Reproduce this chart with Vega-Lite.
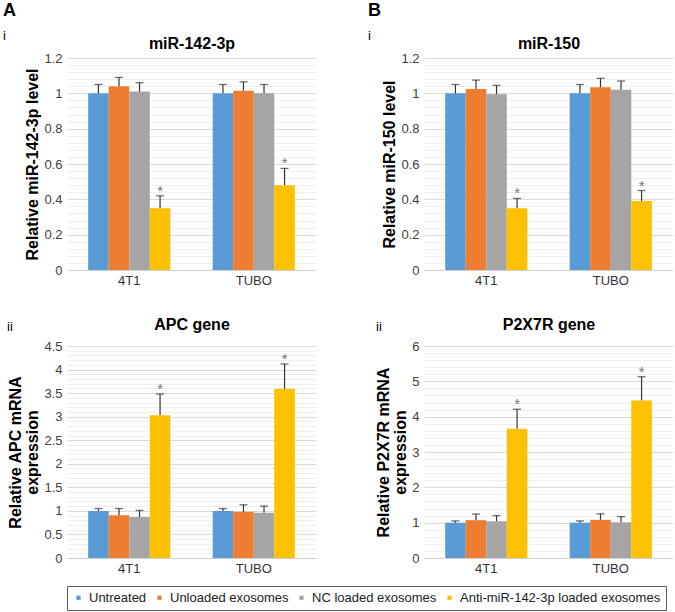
{
  "$schema": "https://vega.github.io/schema/vega-lite/v6.json",
  "padding": {"left": 3, "top": 2, "right": 0, "bottom": 0},
  "autosize": {"type": "pad"},
  "background": "white",
  "data": {"values": [
    {"panel": "Ai", "cell": "4T1", "series": "Untreated", "value": 1.0, "upper": 1.05},
    {"panel": "Ai", "cell": "4T1", "series": "Unloaded exosomes", "value": 1.04, "upper": 1.09},
    {"panel": "Ai", "cell": "4T1", "series": "NC loaded exosomes", "value": 1.01, "upper": 1.06},
    {"panel": "Ai", "cell": "4T1", "series": "Anti-miR-142-3p loaded exosomes", "value": 0.35, "upper": 0.42},
    {"panel": "Ai", "cell": "TUBO", "series": "Untreated", "value": 1.0, "upper": 1.05},
    {"panel": "Ai", "cell": "TUBO", "series": "Unloaded exosomes", "value": 1.015, "upper": 1.065},
    {"panel": "Ai", "cell": "TUBO", "series": "NC loaded exosomes", "value": 1.0, "upper": 1.05},
    {"panel": "Ai", "cell": "TUBO", "series": "Anti-miR-142-3p loaded exosomes", "value": 0.48, "upper": 0.575},
    {"panel": "Bi", "cell": "4T1", "series": "Untreated", "value": 1.0, "upper": 1.05},
    {"panel": "Bi", "cell": "4T1", "series": "Unloaded exosomes", "value": 1.025, "upper": 1.075},
    {"panel": "Bi", "cell": "4T1", "series": "NC loaded exosomes", "value": 0.995, "upper": 1.045},
    {"panel": "Bi", "cell": "4T1", "series": "Anti-miR-142-3p loaded exosomes", "value": 0.35, "upper": 0.405},
    {"panel": "Bi", "cell": "TUBO", "series": "Untreated", "value": 1.0, "upper": 1.05},
    {"panel": "Bi", "cell": "TUBO", "series": "Unloaded exosomes", "value": 1.035, "upper": 1.085},
    {"panel": "Bi", "cell": "TUBO", "series": "NC loaded exosomes", "value": 1.02, "upper": 1.07},
    {"panel": "Bi", "cell": "TUBO", "series": "Anti-miR-142-3p loaded exosomes", "value": 0.39, "upper": 0.45},
    {"panel": "Aii", "cell": "4T1", "series": "Untreated", "value": 1.0, "upper": 1.05},
    {"panel": "Aii", "cell": "4T1", "series": "Unloaded exosomes", "value": 0.91, "upper": 1.05},
    {"panel": "Aii", "cell": "4T1", "series": "NC loaded exosomes", "value": 0.87, "upper": 1.01},
    {"panel": "Aii", "cell": "4T1", "series": "Anti-miR-142-3p loaded exosomes", "value": 3.03, "upper": 3.48},
    {"panel": "Aii", "cell": "TUBO", "series": "Untreated", "value": 1.0, "upper": 1.05},
    {"panel": "Aii", "cell": "TUBO", "series": "Unloaded exosomes", "value": 0.98, "upper": 1.13},
    {"panel": "Aii", "cell": "TUBO", "series": "NC loaded exosomes", "value": 0.96, "upper": 1.1},
    {"panel": "Aii", "cell": "TUBO", "series": "Anti-miR-142-3p loaded exosomes", "value": 3.59, "upper": 4.12},
    {"panel": "Bii", "cell": "4T1", "series": "Untreated", "value": 1.0, "upper": 1.05},
    {"panel": "Bii", "cell": "4T1", "series": "Unloaded exosomes", "value": 1.07, "upper": 1.245},
    {"panel": "Bii", "cell": "4T1", "series": "NC loaded exosomes", "value": 1.04, "upper": 1.2},
    {"panel": "Bii", "cell": "4T1", "series": "Anti-miR-142-3p loaded exosomes", "value": 3.66, "upper": 4.21},
    {"panel": "Bii", "cell": "TUBO", "series": "Untreated", "value": 1.0, "upper": 1.05},
    {"panel": "Bii", "cell": "TUBO", "series": "Unloaded exosomes", "value": 1.08, "upper": 1.25},
    {"panel": "Bii", "cell": "TUBO", "series": "NC loaded exosomes", "value": 1.01, "upper": 1.17},
    {"panel": "Bii", "cell": "TUBO", "series": "Anti-miR-142-3p loaded exosomes", "value": 4.46, "upper": 5.13}
  ]},
  "columns": 2,
  "bounds": "flush",
  "spacing": {"row": 76, "column": 108},
  "resolve": {"scale": {"x": "independent", "y": "independent", "xOffset": "independent", "color": "shared"}, "axis": {"x": "independent", "y": "independent"}},
  "concat": [
    {
      "width": 249, "height": 212,
      "title": {"text": "A", "subtitle": "\u00a0\u00a0\u00a0i", "anchor": "start", "frame": "group", "fontSize": 18, "fontWeight": "bold", "dx": -64, "offset": -8, "subtitleFontSize": 13, "subtitlePadding": 10, "subtitleColor": "#000000"},
      "transform": [{"filter": "datum.panel === 'Ai'"}],
      "encoding": {
        "x": {"field": "cell", "type": "nominal", "sort": ["4T1", "TUBO"], "scale": {"paddingInner": 0.34, "paddingOuter": 0.17},
              "axis": {"title": "miR-142-3p", "titleX": 124.5, "titleY": -222, "titleAlign": "center", "titleBaseline": "alphabetic", "titleFontSize": 16, "titleFontWeight": "bold"}},
        "xOffset": {"field": "series", "type": "nominal", "sort": ["Untreated", "Unloaded exosomes", "NC loaded exosomes", "Anti-miR-142-3p loaded exosomes"], "scale": {"paddingInner": 0, "paddingOuter": 0}}
      },
      "layer": [
        {"mark": {"type": "bar"},
         "encoding": {
           "y": {"field": "value", "type": "quantitative", "scale": {"domain": [0, 1.2], "nice": false},
                 "axis": {"title": "Relative miR-142-3p level", "labelOverlap": false, "tickCount": 200,
                          "values": [0,0.04,0.08,0.12,0.16,0.2,0.24,0.28,0.32,0.36,0.4,0.44,0.48,0.52,0.56,0.6,0.64,0.68,0.72,0.76,0.8,0.84,0.88,0.92,0.96,1,1.04,1.08,1.12,1.16,1.2],
                          "labelExpr": "abs(datum.value/0.2 - round(datum.value/0.2)) < 0.001 ? format(datum.value, '~g') : ''",
                          "gridColor": {"condition": {"test": "abs(datum.value/0.2 - round(datum.value/0.2)) < 0.001", "value": "#d9d9d9"}, "value": "#efefef"}}},
           "color": {"field": "series", "type": "nominal",
                     "scale": {"domain": ["Untreated", "Unloaded exosomes", "NC loaded exosomes", "Anti-miR-142-3p loaded exosomes"], "range": ["#5B9BD5", "#ED7D31", "#A5A5A5", "#FFC000"]},
                     "legend": {"orient": "none", "legendX": 0, "legendY": 528, "direction": "horizontal", "title": null}}
         }},
        {"mark": {"type": "rule", "color": "#333333", "strokeWidth": 1.2},
         "encoding": {"y": {"field": "value", "type": "quantitative"}, "y2": {"field": "upper"}}},
        {"mark": {"type": "tick", "color": "#333333", "size": 8, "thickness": 1.3},
         "encoding": {"y": {"field": "upper", "type": "quantitative"}}},
        {"transform": [{"filter": "datum.series === 'Anti-miR-142-3p loaded exosomes'"}],
         "mark": {"type": "text", "text": "*", "fontSize": 15, "color": "#777777", "baseline": "alphabetic", "dy": 0},
         "encoding": {"y": {"field": "upper", "type": "quantitative"}}}
      ]
    },
    {
      "width": 249, "height": 212,
      "title": {"text": "B", "subtitle": "\u00a0i", "anchor": "start", "frame": "group", "fontSize": 18, "fontWeight": "bold", "dx": -56, "offset": -8, "subtitleFontSize": 13, "subtitlePadding": 10, "subtitleColor": "#000000"},
      "transform": [{"filter": "datum.panel === 'Bi'"}],
      "encoding": {
        "x": {"field": "cell", "type": "nominal", "sort": ["4T1", "TUBO"], "scale": {"paddingInner": 0.34, "paddingOuter": 0.17},
              "axis": {"title": "miR-150", "titleX": 124.5, "titleY": -222, "titleAlign": "center", "titleBaseline": "alphabetic", "titleFontSize": 16, "titleFontWeight": "bold"}},
        "xOffset": {"field": "series", "type": "nominal", "sort": ["Untreated", "Unloaded exosomes", "NC loaded exosomes", "Anti-miR-142-3p loaded exosomes"], "scale": {"paddingInner": 0, "paddingOuter": 0}}
      },
      "layer": [
        {"mark": {"type": "bar"},
         "encoding": {
           "y": {"field": "value", "type": "quantitative", "scale": {"domain": [0, 1.2], "nice": false},
                 "axis": {"title": "Relative miR-150 level", "labelOverlap": false, "tickCount": 200,
                          "values": [0,0.04,0.08,0.12,0.16,0.2,0.24,0.28,0.32,0.36,0.4,0.44,0.48,0.52,0.56,0.6,0.64,0.68,0.72,0.76,0.8,0.84,0.88,0.92,0.96,1,1.04,1.08,1.12,1.16,1.2],
                          "labelExpr": "abs(datum.value/0.2 - round(datum.value/0.2)) < 0.001 ? format(datum.value, '~g') : ''",
                          "gridColor": {"condition": {"test": "abs(datum.value/0.2 - round(datum.value/0.2)) < 0.001", "value": "#d9d9d9"}, "value": "#efefef"}}},
           "color": {"field": "series", "type": "nominal",
                     "scale": {"domain": ["Untreated", "Unloaded exosomes", "NC loaded exosomes", "Anti-miR-142-3p loaded exosomes"], "range": ["#5B9BD5", "#ED7D31", "#A5A5A5", "#FFC000"]},
                     "legend": {"orient": "none", "legendX": 0, "legendY": 528, "direction": "horizontal", "title": null}}
         }},
        {"mark": {"type": "rule", "color": "#333333", "strokeWidth": 1.2},
         "encoding": {"y": {"field": "value", "type": "quantitative"}, "y2": {"field": "upper"}}},
        {"mark": {"type": "tick", "color": "#333333", "size": 8, "thickness": 1.3},
         "encoding": {"y": {"field": "upper", "type": "quantitative"}}},
        {"transform": [{"filter": "datum.series === 'Anti-miR-142-3p loaded exosomes'"}],
         "mark": {"type": "text", "text": "*", "fontSize": 15, "color": "#777777", "baseline": "alphabetic", "dy": 0},
         "encoding": {"y": {"field": "upper", "type": "quantitative"}}}
      ]
    },
    {
      "width": 249, "height": 212,
      "title": {"text": "ii", "anchor": "start", "frame": "group", "fontSize": 13, "fontWeight": "normal", "dx": -60, "offset": -18},
      "transform": [{"filter": "datum.panel === 'Aii'"}],
      "encoding": {
        "x": {"field": "cell", "type": "nominal", "sort": ["4T1", "TUBO"], "scale": {"paddingInner": 0.34, "paddingOuter": 0.17},
              "axis": {"title": "APC gene", "titleX": 124.5, "titleY": -229, "titleAlign": "center", "titleBaseline": "alphabetic", "titleFontSize": 16, "titleFontWeight": "bold"}},
        "xOffset": {"field": "series", "type": "nominal", "sort": ["Untreated", "Unloaded exosomes", "NC loaded exosomes", "Anti-miR-142-3p loaded exosomes"], "scale": {"paddingInner": 0, "paddingOuter": 0}}
      },
      "layer": [
        {"mark": {"type": "bar"},
         "encoding": {
           "y": {"field": "value", "type": "quantitative", "scale": {"domain": [0, 4.5], "nice": false},
                 "axis": {"title": ["Relative  APC mRNA", "expression"], "labelOverlap": false, "tickCount": 200,
                          "values": [0,0.1,0.2,0.3,0.4,0.5,0.6,0.7,0.8,0.9,1,1.1,1.2,1.3,1.4,1.5,1.6,1.7,1.8,1.9,2,2.1,2.2,2.3,2.4,2.5,2.6,2.7,2.8,2.9,3,3.1,3.2,3.3,3.4,3.5,3.6,3.7,3.8,3.9,4,4.1,4.2,4.3,4.4,4.5],
                          "labelExpr": "abs(datum.value/0.5 - round(datum.value/0.5)) < 0.001 ? format(datum.value, '~g') : ''",
                          "gridColor": {"condition": {"test": "abs(datum.value/0.5 - round(datum.value/0.5)) < 0.001", "value": "#d9d9d9"}, "value": "#efefef"}}},
           "color": {"field": "series", "type": "nominal",
                     "scale": {"domain": ["Untreated", "Unloaded exosomes", "NC loaded exosomes", "Anti-miR-142-3p loaded exosomes"], "range": ["#5B9BD5", "#ED7D31", "#A5A5A5", "#FFC000"]},
                     "legend": {"orient": "none", "legendX": 0, "legendY": 528, "direction": "horizontal", "title": null}}
         }},
        {"mark": {"type": "rule", "color": "#333333", "strokeWidth": 1.2},
         "encoding": {"y": {"field": "value", "type": "quantitative"}, "y2": {"field": "upper"}}},
        {"mark": {"type": "tick", "color": "#333333", "size": 8, "thickness": 1.3},
         "encoding": {"y": {"field": "upper", "type": "quantitative"}}},
        {"transform": [{"filter": "datum.series === 'Anti-miR-142-3p loaded exosomes'"}],
         "mark": {"type": "text", "text": "*", "fontSize": 15, "color": "#777777", "baseline": "alphabetic", "dy": 0},
         "encoding": {"y": {"field": "upper", "type": "quantitative"}}}
      ]
    },
    {
      "width": 249, "height": 212,
      "title": {"text": "ii", "anchor": "start", "frame": "group", "fontSize": 13, "fontWeight": "normal", "dx": -48, "offset": -18},
      "transform": [{"filter": "datum.panel === 'Bii'"}],
      "encoding": {
        "x": {"field": "cell", "type": "nominal", "sort": ["4T1", "TUBO"], "scale": {"paddingInner": 0.34, "paddingOuter": 0.17},
              "axis": {"title": "P2X7R gene", "titleX": 124.5, "titleY": -229, "titleAlign": "center", "titleBaseline": "alphabetic", "titleFontSize": 16, "titleFontWeight": "bold"}},
        "xOffset": {"field": "series", "type": "nominal", "sort": ["Untreated", "Unloaded exosomes", "NC loaded exosomes", "Anti-miR-142-3p loaded exosomes"], "scale": {"paddingInner": 0, "paddingOuter": 0}}
      },
      "layer": [
        {"mark": {"type": "bar"},
         "encoding": {
           "y": {"field": "value", "type": "quantitative", "scale": {"domain": [0, 6], "nice": false},
                 "axis": {"title": ["Relative P2X7R mRNA", "expression"], "labelOverlap": false, "tickCount": 200,
                          "values": [0,0.2,0.4,0.6,0.8,1,1.2,1.4,1.6,1.8,2,2.2,2.4,2.6,2.8,3,3.2,3.4,3.6,3.8,4,4.2,4.4,4.6,4.8,5,5.2,5.4,5.6,5.8,6],
                          "labelExpr": "abs(datum.value - round(datum.value)) < 0.001 ? format(datum.value, '~g') : ''",
                          "gridColor": {"condition": {"test": "abs(datum.value - round(datum.value)) < 0.001", "value": "#d9d9d9"}, "value": "#efefef"}}},
           "color": {"field": "series", "type": "nominal",
                     "scale": {"domain": ["Untreated", "Unloaded exosomes", "NC loaded exosomes", "Anti-miR-142-3p loaded exosomes"], "range": ["#5B9BD5", "#ED7D31", "#A5A5A5", "#FFC000"]},
                     "legend": {"orient": "none", "legendX": 0, "legendY": 528, "direction": "horizontal", "title": null}}
         }},
        {"mark": {"type": "rule", "color": "#333333", "strokeWidth": 1.2},
         "encoding": {"y": {"field": "value", "type": "quantitative"}, "y2": {"field": "upper"}}},
        {"mark": {"type": "tick", "color": "#333333", "size": 8, "thickness": 1.3},
         "encoding": {"y": {"field": "upper", "type": "quantitative"}}},
        {"transform": [{"filter": "datum.series === 'Anti-miR-142-3p loaded exosomes'"}],
         "mark": {"type": "text", "text": "*", "fontSize": 15, "color": "#777777", "baseline": "alphabetic", "dy": 0},
         "encoding": {"y": {"field": "upper", "type": "quantitative"}}}
      ]
    }
  ],
  "config": {
    "font": "Liberation Sans",
    "view": {"stroke": null},
    "title": {"color": "#000000"},
    "axisY": {"domain": false, "ticks": false, "labelFontSize": 13, "labelColor": "#404040", "labelOverlap": false, "labelBound": false, "titleFontSize": 16, "titleFontWeight": "bold", "titleColor": "#000000", "titleLineHeight": 17, "labelPadding": 5, "titlePadding": 3},
    "axisX": {"domainColor": "#d0d0d0", "ticks": false, "labelFontSize": 13, "labelColor": "#333333", "labelAngle": 0, "grid": false, "labelPadding": 4, "titleColor": "#000000"},
    "legend": {"symbolType": "square", "symbolSize": 18, "labelFontSize": 13, "labelColor": "#222222", "columnPadding": 6, "labelOffset": 4, "strokeColor": "#595959", "padding": 5, "symbolStrokeWidth": 0, "labelLimit": 300}
  }
}
